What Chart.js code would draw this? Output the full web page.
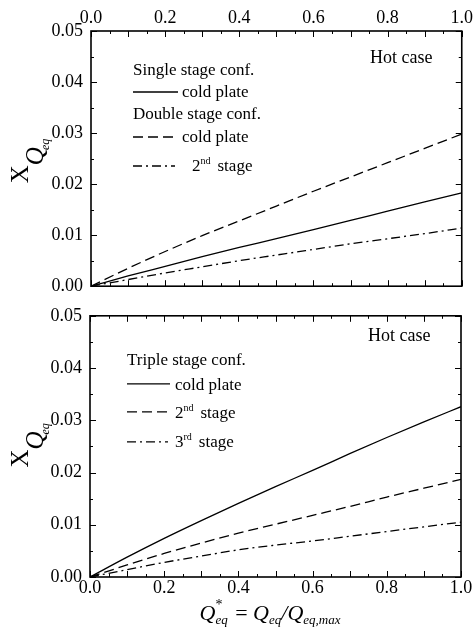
<!DOCTYPE html>
<html>
<head>
<meta charset="utf-8">
<script src="https://cdn.jsdelivr.net/npm/chart.js@4.4.0/dist/chart.umd.min.js"></script>
<style>
  html, body { margin: 0; padding: 0; background: #fff; }
  canvas { display: block; }
  #bottomChart { margin-top: -8px; }
</style>
</head>
<body>
<canvas id="topChart" width="475" height="305"></canvas>
<canvas id="bottomChart" width="475" height="337"></canvas>
<script>
// Q*eq values (x axis)
const qStar = [0, 0.1, 0.2, 0.3, 0.4, 0.5, 0.6, 0.7, 0.8, 0.9, 1.0];

// top panel: single + double stage configurations
const singleColdPlate = [0, 0.0020, 0.0039, 0.0058, 0.0076, 0.0093, 0.0111, 0.0129, 0.0147, 0.0165, 0.0183];
const doubleColdPlate = [0, 0.0035, 0.0068, 0.0099, 0.0128, 0.0157, 0.0186, 0.0214, 0.0242, 0.0270, 0.0298];
const doubleSecondStage = [0, 0.0013, 0.0026, 0.0038, 0.0050, 0.0061, 0.0072, 0.0083, 0.0093, 0.0103, 0.0114];

// bottom panel: triple stage configuration
const tripleColdPlate = [0, 0.0038, 0.0074, 0.0108, 0.0141, 0.0173, 0.0204, 0.0236, 0.0267, 0.0297, 0.0326];
const tripleSecondStage = [0, 0.0023, 0.0045, 0.0065, 0.0084, 0.0101, 0.0118, 0.0135, 0.0153, 0.0170, 0.0187];
const tripleThirdStage = [0, 0.0014, 0.0028, 0.0040, 0.0052, 0.0061, 0.0069, 0.0078, 0.0087, 0.0096, 0.0105];

// tick labels
const xTicks = [0, 0.2, 0.4, 0.6, 0.8, 1.0];
const yTicks = [0, 0.01, 0.02, 0.03, 0.04, 0.05];

const SERIF = '"Liberation Serif", "Times New Roman", serif';
const DASH = [10, 5];
const DASH_DOT = [9, 4, 2, 4];

function pts(ys) {
    return qStar.map((x, i) => ({x: x, y: ys[i]}));
}

function line(label, ys, dash) {
    return {
        label: label,
        data: pts(ys),
        borderColor: '#000',
        borderWidth: 1.3,
        borderDash: dash,
        pointRadius: 0,
        cubicInterpolationMode: 'monotone',
        fill: false
    };
}

// draws text pieces one after the other (subscripts, superscripts)
function rich(ctx, parts, x, y, align) {
    let total = 0;
    parts.forEach(p => {
        ctx.font = p.font;
        total += (p.skip ? 0 : ctx.measureText(p.t).width) + (p.kern || 0);
    });
    let cx = align === 'center' ? x - total / 2 : x;
    parts.forEach(p => {
        ctx.font = p.font;
        ctx.fillText(p.t, cx, y + (p.dy || 0));
        cx += (p.skip ? 0 : ctx.measureText(p.t).width) + (p.kern || 0);
    });
}

function legendLine(ctx, x1, x2, y, dash) {
    ctx.save();
    ctx.lineWidth = 1.3;
    ctx.setLineDash(dash);
    ctx.beginPath();
    ctx.moveTo(x1, y);
    ctx.lineTo(x2, y);
    ctx.stroke();
    ctx.restore();
}

// inward ticks on all four sides + frame
const framePlugin = {
    id: 'frame',
    afterDatasetsDraw(chart) {
        const ctx = chart.ctx;
        const a = chart.chartArea;
        const sx = chart.scales.x, sy = chart.scales.y;
        ctx.save();
        ctx.strokeStyle = '#000';
        ctx.lineWidth = 1;
        ctx.beginPath();
        for (let i = 0; i <= 20; i++) {
            const px = Math.round(sx.getPixelForValue(i * 0.05)) + 0.5;
            const len = i % 2 ? 3 : 6;
            ctx.moveTo(px, a.top); ctx.lineTo(px, a.top + len);
            ctx.moveTo(px, a.bottom); ctx.lineTo(px, a.bottom - len);
        }
        for (let i = 0; i <= 10; i++) {
            const py = Math.round(sy.getPixelForValue(i * 0.005)) + 0.5;
            const len = i % 2 ? 3 : 6;
            ctx.moveTo(a.left, py); ctx.lineTo(a.left + len, py);
            ctx.moveTo(a.right, py); ctx.lineTo(a.right - len, py);
        }
        ctx.stroke();
        ctx.lineWidth = 1.6;
        ctx.strokeRect(a.left, a.top, a.right - a.left, a.bottom - a.top);
        ctx.restore();
    }
};

function yTitle(ctx, cx, cy) {
    ctx.save();
    ctx.fillStyle = '#000';
    ctx.textBaseline = 'alphabetic';
    ctx.translate(cx, cy);
    ctx.rotate(-Math.PI / 2);
    rich(ctx, [
        {t: 'X', font: '25px ' + SERIF},
        {t: 'Q', font: 'italic 25px ' + SERIF, dy: 15, kern: -3},
        {t: 'eq', font: 'italic 12px ' + SERIF, dy: 21}
    ], 0, 0, 'center');
    ctx.restore();
}

function makeOptions(xPos, pad, yWidth, xHeight, xPadding) {
    return {
        responsive: false,
        animation: false,
        devicePixelRatio: 1,
        layout: {padding: pad},
        plugins: {legend: {display: false}, tooltip: {enabled: false}},
        scales: {
            x: {
                type: 'linear',
                position: xPos,
                min: 0,
                max: 1,
                afterBuildTicks: s => { s.ticks = xTicks.map(v => ({value: v})); },
                afterFit: s => { s.height = xHeight; },
                ticks: {
                    callback: v => v.toFixed(1),
                    color: '#000',
                    font: {family: SERIF, size: 18},
                    padding: xPadding,
                    maxRotation: 0,
                    autoSkip: false
                },
                grid: {display: false, drawTicks: false},
                border: {display: false}
            },
            y: {
                type: 'linear',
                min: 0,
                max: 0.05,
                afterBuildTicks: s => { s.ticks = yTicks.map(v => ({value: v})); },
                afterFit: s => { s.width = yWidth; },
                ticks: {
                    callback: v => v.toFixed(2),
                    color: '#000',
                    font: {family: SERIF, size: 18},
                    padding: 8,
                    autoSkip: false
                },
                grid: {display: false, drawTicks: false},
                border: {display: false}
            }
        }
    };
}

// ---- top panel ----
const topText = {
    id: 'topText',
    afterDraw(chart) {
        const ctx = chart.ctx;
        ctx.save();
        ctx.fillStyle = '#000';
        ctx.strokeStyle = '#000';
        ctx.font = '17px ' + SERIF;
        ctx.fillText('Single stage conf.', 133, 75);
        legendLine(ctx, 133, 178, 92, []);
        ctx.fillText('cold plate', 182, 97);
        ctx.fillText('Double stage conf.', 133, 119);
        legendLine(ctx, 133, 178, 137, DASH);
        ctx.fillText('cold plate', 182, 142);
        legendLine(ctx, 133, 175, 166, DASH_DOT);
        rich(ctx, [
            {t: '2', font: '17px ' + SERIF},
            {t: 'nd', font: '10px ' + SERIF, dy: -7, kern: 7},
            {t: 'stage', font: '17px ' + SERIF}
        ], 192, 171);
        ctx.font = '18px ' + SERIF;
        ctx.fillText('Hot case', 370, 63);
        ctx.restore();
        yTitle(ctx, 28, 161);
    }
};

new Chart(document.getElementById('topChart'), {
    type: 'line',
    data: {
        datasets: [
            line('Single stage conf. cold plate', singleColdPlate, []),
            line('Double stage conf. cold plate', doubleColdPlate, DASH),
            line('Double stage conf. 2nd stage', doubleSecondStage, DASH_DOT)
        ]
    },
    options: makeOptions('top', {left: 0, right: 13, top: 0, bottom: 12}, 91, 31, 2),
    plugins: [framePlugin, topText]
});

// ---- bottom panel ----
const bottomText = {
    id: 'bottomText',
    afterDraw(chart) {
        const ctx = chart.ctx;
        const top = chart.chartArea.top;
        const bottom = chart.chartArea.bottom;
        ctx.save();
        ctx.fillStyle = '#000';
        ctx.font = '17px ' + SERIF;
        ctx.fillText('Triple stage conf.', 127, top + 49);
        legendLine(ctx, 127, 170, top + 68, []);
        ctx.fillText('cold plate', 175, top + 74);
        legendLine(ctx, 127, 167, top + 96, DASH);
        rich(ctx, [
            {t: '2', font: '17px ' + SERIF},
            {t: 'nd', font: '10px ' + SERIF, dy: -7, kern: 7},
            {t: 'stage', font: '17px ' + SERIF}
        ], 175, top + 102);
        legendLine(ctx, 127, 168, top + 126, DASH_DOT);
        rich(ctx, [
            {t: '3', font: '17px ' + SERIF},
            {t: 'rd', font: '10px ' + SERIF, dy: -7, kern: 7},
            {t: 'stage', font: '17px ' + SERIF}
        ], 175, top + 131);
        ctx.font = '18px ' + SERIF;
        ctx.fillText('Hot case', 368, top + 25);

        // x axis title: Q*eq = Qeq/Qeq,max
        rich(ctx, [
            {t: 'Q', font: 'italic 22px ' + SERIF},
            {t: '*', font: '14px ' + SERIF, dy: -11, skip: true},
            {t: 'eq', font: 'italic 13px ' + SERIF, dy: 4, kern: 2},
            {t: ' = ', font: '22px ' + SERIF},
            {t: 'Q', font: 'italic 22px ' + SERIF},
            {t: 'eq', font: 'italic 13px ' + SERIF, dy: 4},
            {t: '/', font: 'italic 22px ' + SERIF},
            {t: 'Q', font: 'italic 22px ' + SERIF},
            {t: 'eq,max', font: 'italic 13px ' + SERIF, dy: 4}
        ], 270, bottom + 43, 'center');
        ctx.restore();
        yTitle(ctx, 28, (top + bottom) / 2 - 1);
    }
};

new Chart(document.getElementById('bottomChart'), {
    type: 'line',
    data: {
        datasets: [
            line('Triple stage conf. cold plate', tripleColdPlate, []),
            line('Triple stage conf. 2nd stage', tripleSecondStage, DASH),
            line('Triple stage conf. 3rd stage', tripleThirdStage, DASH_DOT)
        ]
    },
    options: makeOptions('bottom', {left: 0, right: 14, top: 2, bottom: 0}, 90, 57, 0),
    plugins: [framePlugin, bottomText]
});
</script>
</body>
</html>
